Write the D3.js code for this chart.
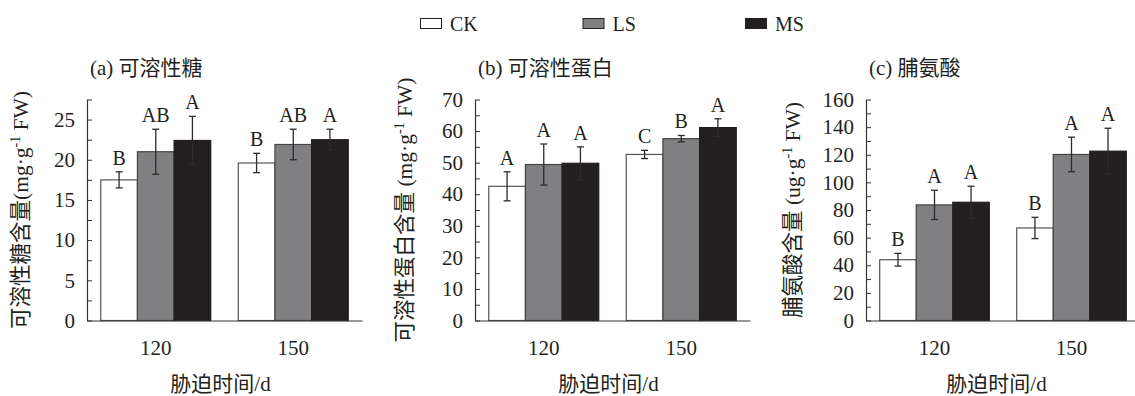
<!DOCTYPE html>
<html lang="zh-CN">
<head>
<meta charset="utf-8">
<script src="https://cdn.jsdelivr.net/npm/d3@7"></script>
<style>
  body { margin: 0; background: #fff; }
  text { font-family: "Liberation Serif", "Noto Sans CJK SC", serif; fill: #231f20; }
</style>
</head>
<body>
<script>
const width = 1135;
const height = 396;

// data
const groups = ["120", "150"];
const series = ["CK", "LS", "MS"];

const sugarMean = [[17.5, 21.0, 22.4], [19.6, 21.9, 22.5]];
const sugarErr = [[1.0, 2.8, 3.0], [1.2, 1.9, 1.3]];
const sugarSig = [["B", "AB", "A"], ["B", "AB", "A"]];

const proteinMean = [[42.5, 49.4, 49.8], [52.6, 57.6, 61.1]];
const proteinErr = [[4.6, 6.5, 5.2], [1.3, 1.0, 2.8]];
const proteinSig = [["A", "A", "A"], ["C", "B", "A"]];

const prolineMean = [[44.0, 83.7, 85.6], [67.0, 120.2, 122.6]];
const prolineErr = [[4.6, 10.6, 11.6], [7.7, 12.5, 16.6]];
const prolineSig = [["B", "A", "A"], ["B", "A", "A"]];

const sugarTicks = [0, 5, 10, 15, 20, 25];
const proteinTicks = [0, 10, 20, 30, 40, 50, 60, 70];
const prolineTicks = [0, 20, 40, 60, 80, 100, 120, 140, 160];

const fills = { CK: "#ffffff", LS: "#808083", MS: "#231f20" };
const strokes = { CK: "#555", LS: "#444", MS: "#231f20" };

const panels = [
    { title: "(a) 可溶性糖", yPre: "可溶性糖含量(mg·g", yPost: " FW)", mean: sugarMean, err: sugarErr, sig: sugarSig,
      ticks: sugarTicks, max: 27.5, left: 87, right: 362, yTitleX: 21 },
    { title: "(b) 可溶性蛋白", yPre: "可溶性蛋白含量 (mg·g", yPost: " FW)", mean: proteinMean, err: proteinErr, sig: proteinSig,
      ticks: proteinTicks, max: 70, left: 475, right: 750, yTitleX: 405 },
    { title: "(c) 脯氨酸", yPre: "脯氨酸含量 (ug·g", yPost: " FW)", mean: prolineMean, err: prolineErr, sig: prolineSig,
      ticks: prolineTicks, max: 160, left: 866, right: 1140, yTitleX: 793 }
];

const plotBottom = 320.5;
const plotTop = 99.5;

let svg = d3.select("body").append("svg")
    .attr("width", width)
    .attr("height", height);

// legend
let legendX = d3.scalePoint().domain(series).range([420, 745]);
let legend = svg.append("g");
series.forEach(s => {
    legend.append("rect")
        .attr("x", legendX(s) + 0.5)
        .attr("y", 18.5)
        .attr("width", 21)
        .attr("height", 10)
        .attr("fill", fills[s])
        .attr("stroke", "#231f20")
        .attr("stroke-width", 1);
    legend.append("text")
        .attr("x", legendX(s) + 30)
        .attr("y", 31)
        .style("font-size", "20px")
        .text(s);
});

panels.forEach(p => {
    let g = svg.append("g");

    let x0 = d3.scaleBand()
        .domain(groups)
        .range([p.left, p.right])
        .paddingInner(0.2)
        .paddingOuter(0.1);

    let x1 = d3.scaleBand()
        .domain(series)
        .range([0, x0.bandwidth()]);

    let y = d3.scaleLinear()
        .domain([0, p.max])
        .range([plotBottom, plotTop]);

    // minor + major ticks every half step
    let step = p.ticks[1] - p.ticks[0];
    let allTicks = d3.range(0, p.max + step / 4, step / 2);

    // bars
    groups.forEach((grp, gi) => {
        series.forEach((s, si) => {
            let v = p.mean[gi][si];
            let e = p.err[gi][si];
            let bx = x0(grp) + x1(s);
            let cx = bx + x1.bandwidth() / 2;

            g.append("rect")
                .attr("x", bx)
                .attr("y", y(v))
                .attr("width", x1.bandwidth())
                .attr("height", y(0) - y(v))
                .attr("fill", fills[s])
                .attr("stroke", strokes[s])
                .attr("stroke-width", 1.2);

            // error bar
            let eb = g.append("g").attr("stroke", "#2b2b2b").attr("stroke-width", 1.3);
            eb.append("line")
                .attr("x1", cx).attr("x2", cx)
                .attr("y1", y(v + e)).attr("y2", y(v - e));
            eb.append("line")
                .attr("x1", cx - 3.5).attr("x2", cx + 3.5)
                .attr("y1", y(v + e)).attr("y2", y(v + e));
            eb.append("line")
                .attr("x1", cx - 3.5).attr("x2", cx + 3.5)
                .attr("y1", y(v - e)).attr("y2", y(v - e));

            g.append("text")
                .attr("x", cx)
                .attr("y", y(v + e) - 7)
                .attr("text-anchor", "middle")
                .style("font-size", "20px")
                .text(p.sig[gi][si]);
        });
    });

    // y axis
    let yAxis = g.append("g")
        .attr("transform", `translate(${p.left},0)`)
        .call(d3.axisLeft(y)
            .tickValues(allTicks)
            .tickSizeInner(-5)
            .tickSizeOuter(0)
            .tickPadding(12)
            .tickFormat(d => p.ticks.includes(d) ? d : ""));
    yAxis.selectAll("text").style("font-size", "21px").attr("fill", "#231f20");
    yAxis.selectAll("line, path").attr("stroke", "#333");
    yAxis.select(".domain").attr("stroke-width", 1.2);

    // x axis
    let xAxis = g.append("g")
        .attr("transform", `translate(0,${plotBottom})`)
        .call(d3.axisBottom(x0).tickSize(0).tickPadding(20));
    xAxis.selectAll("text").style("font-size", "21px").attr("fill", "#231f20");
    xAxis.select(".domain").attr("stroke", "#333").attr("stroke-width", 1.2);

    // titles
    g.append("text")
        .attr("x", p.left + 3)
        .attr("y", 75)
        .style("font-size", "21px")
        .text(p.title);

    g.append("text")
        .attr("x", (p.left + Math.min(p.right, width)) / 2 - 4)
        .attr("y", 391)
        .attr("text-anchor", "middle")
        .style("font-size", "21px")
        .text("胁迫时间/d");

    let yt = g.append("text")
        .attr("text-anchor", "middle")
        .attr("transform", `translate(${p.yTitleX + 7},210) rotate(-90)`)
        .style("font-size", "21.5px");
    yt.append("tspan").text(p.yPre);
    yt.append("tspan").attr("dy", -8).style("font-size", "14px").text("-1");
    yt.append("tspan").attr("dy", 8).text(p.yPost);
});
</script>
</body>
</html>
